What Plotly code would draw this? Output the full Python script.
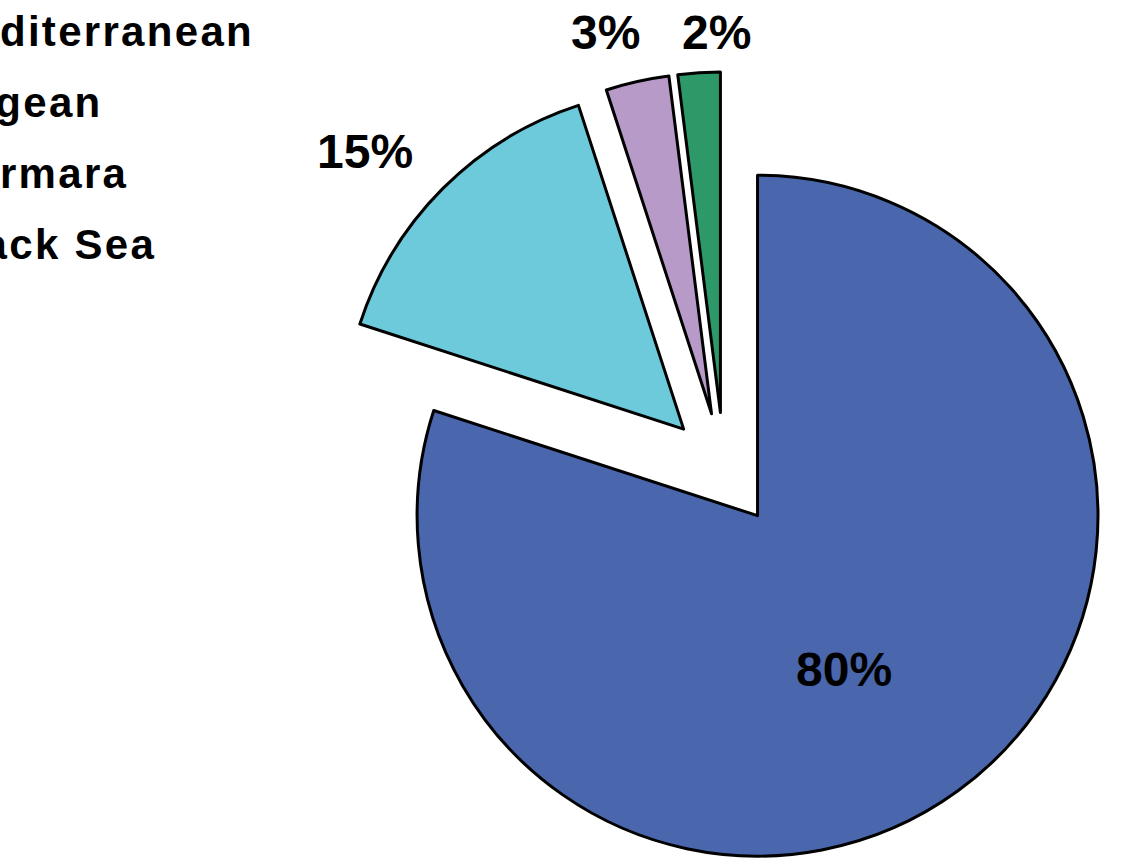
import math
import plotly.graph_objects as go

# ---- data ----
categories = ["Mediterranean", "Aegean", "Marmara", "Black Sea"]
values = [80, 15, 3, 2]
colors = ["#4A66AC", "#6DCADB", "#B79AC8", "#2E9968"]

# label placement style: radial anchor (fraction of radius) and pixel nudges
label_radius = [0.5, 1.0, 1.0, 1.0]
label_nudge = [(-14, 16), (-78, -37), (-32, -49), (17, -40)]  # (dx, dy) screen px

FONT = "Liberation Sans, Arial, sans-serif"
PULL = 0.1676
W, H = 1140, 867
M_T = 72
CX = 724  # pie centre x in px
HALF_W = 400

legend_labels = [
    f'<span style="font-size:42px;letter-spacing:2.3px">{c}</span>' for c in categories
]

fig = go.Figure(
    go.Pie(
        labels=legend_labels,
        values=values,
        sort=False,
        direction="clockwise",
        rotation=0,
        pull=[PULL] * len(values),
        marker=dict(colors=colors, line=dict(color="black", width=3)),
        textinfo="none",
        domain=dict(x=[(CX - HALF_W) / W, (CX + HALF_W) / W], y=[0, 1]),
        hovertemplate="%{label}: %{value}<extra></extra>",
    )
)

# percent labels placed relative to each slice's geometry
plot_h = H - M_T
r = plot_h / (2 + 2 * PULL)
cy = M_T + plot_h / 2
total = sum(values)
cum = 0.0
annotations = []
for v, k, (ndx, ndy) in zip(values, label_radius, label_nudge):
    mid = (cum + v / 2) / total * 2 * math.pi
    cum += v
    ux, uy = math.sin(mid), -math.cos(mid)
    px = CX + (PULL * r + k * r) * ux
    py = cy + (PULL * r + k * r) * uy
    annotations.append(
        dict(
            x=px / W,
            y=(H - py) / plot_h,
            xref="paper",
            yref="paper",
            text=f"{round(v / total * 100)}%",
            showarrow=False,
            xanchor="center",
            yanchor="middle",
            xshift=ndx,
            yshift=-ndy,
            font=dict(family=FONT, size=48, color="black", weight="bold"),
        )
    )

fig.update_layout(
    width=W,
    height=H,
    margin=dict(l=0, r=0, t=M_T, b=0, autoexpand=False),
    paper_bgcolor="white",
    plot_bgcolor="white",
    showlegend=True,
    legend=dict(
        x=-103 / W,
        y=1.1094,
        xanchor="left",
        yanchor="top",
        font=dict(family=FONT, size=52.3, color="black", weight="bold"),
        bgcolor="rgba(0,0,0,0)",
        traceorder="normal",
    ),
    annotations=annotations,
)

fig.write_html("out.html")
